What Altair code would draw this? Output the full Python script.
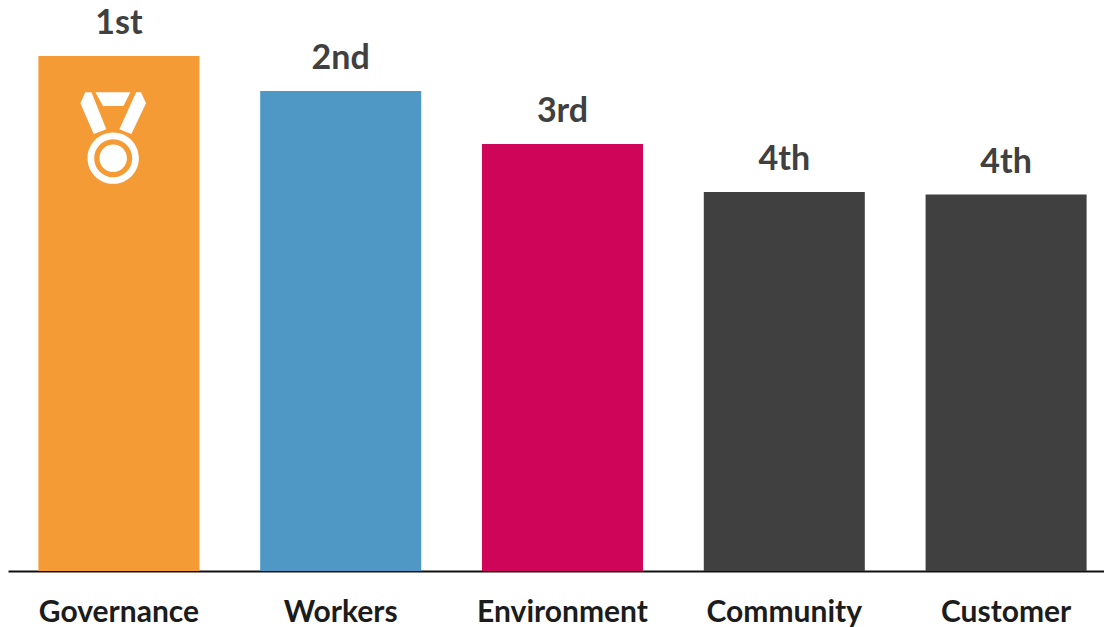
import altair as alt
import pandas as pd

# Pillar rankings: score sets the bar height, rank is printed above each bar
categories = ["Governance", "Workers", "Environment", "Community", "Customer"]
scores = [5.15, 4.80, 4.27, 3.79, 3.765]
ranks = ["1st", "2nd", "3rd", "4th", "4th"]
colors = ["#F59B36", "#4F98C6", "#CE0558", "#404040", "#404040"]

FONT = "Lato"

# Medal glyph in symbol units: ribbon pieces, a ring wound both ways, and a centre disc
MEDAL = (
    "M-0.389 -1 L0.375 -1 L0.222 -0.70 L-0.222 -0.70 Z "
    "M-0.61 -1 L-0.475 -1 L-0.15 -0.19 L-0.425 -0.09 L-0.716 -0.76 Z "
    "M0.50 -1 L0.607 -1 L0.716 -0.76 L0.396 -0.09 L0.135 -0.19 Z "
    "M0 -0.12 A0.56 0.56 0 1 1 0 1.0 A0.56 0.56 0 1 1 0 -0.12 Z "
    "M0 0.025 A0.415 0.415 0 1 0 0 0.855 A0.415 0.415 0 1 0 0 0.025 Z "
    "M0 0.14 A0.30 0.30 0 1 1 0 0.74 A0.30 0.30 0 1 1 0 0.14 Z"
)

df = pd.DataFrame({"category": categories, "score": scores, "rank": ranks, "color": colors})

x = alt.X(
    "category:N",
    sort=categories,
    scale=alt.Scale(range=[0, 1109], paddingInner=0.274, paddingOuter=0.137),
    axis=alt.Axis(
        title=None,
        labelAngle=0,
        labelFont=FONT,
        labelFontWeight="bold",
        labelFontSize=30,
        labelColor="#1c1c1c",
        labelPadding=41,
        labelBaseline="middle",
        ticks=False,
        domainColor="#111111",
        domainWidth=2,
    ),
)
y = alt.Y(
    "score:Q",
    scale=alt.Scale(domain=[0, 5.71], nice=False),
    axis=None,
)

bars = alt.Chart(df).mark_bar().encode(
    x=x, y=y, color=alt.Color("color:N", scale=None, legend=None)
)

labels = alt.Chart(df).mark_text(
    font=FONT, fontWeight="bold", fontSize=34, color="#404040", baseline="bottom", dy=-15
).encode(x=x, y=y, text="rank:N")

medal = alt.Chart(df[df["rank"] == "1st"]).mark_point(
    shape=MEDAL, size=8403, filled=True, fill="#FFFFFF", opacity=1, strokeWidth=0,
    xOffset=-5.7, yOffset=82,
).encode(x=x, y=y)

chart = (bars + labels + medal).properties(
    width=1096,
    height=571,
    autosize=alt.AutoSizeParams(type="none"),
    padding={"left": 8, "top": 0, "right": 0, "bottom": 56},
    background="#FFFFFF",
).configure_view(stroke=None)

chart.save("out.html", embed_options={"renderer": "svg", "actions": False})
